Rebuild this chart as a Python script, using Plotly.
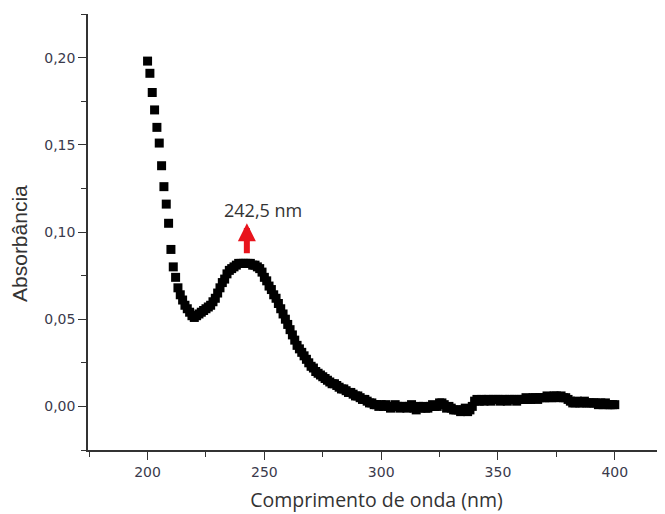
import plotly.graph_objects as go

wavelength = list(range(200, 401))

absorbance = [
    # 200-219
    0.198, 0.191, 0.180, 0.170, 0.160, 0.151, 0.138, 0.126, 0.116, 0.105,
    0.090, 0.080, 0.074, 0.068, 0.064, 0.061, 0.058, 0.056, 0.054, 0.052,
    # 220-239
    0.051, 0.052, 0.053, 0.054, 0.055, 0.056, 0.057, 0.058, 0.060, 0.062,
    0.065, 0.068, 0.071, 0.073, 0.076, 0.078, 0.079, 0.080, 0.081, 0.082,
    # 240-259
    0.082, 0.082, 0.082, 0.082, 0.082, 0.081, 0.081, 0.080, 0.079, 0.077,
    0.074, 0.072, 0.069, 0.067, 0.064, 0.062, 0.059, 0.056, 0.053, 0.050,
    # 260-279
    0.047, 0.044, 0.041, 0.038, 0.035, 0.033, 0.031, 0.029, 0.027, 0.025,
    0.023, 0.022, 0.020, 0.019, 0.018, 0.017, 0.016, 0.015, 0.014, 0.013,
    # 280-299
    0.013, 0.012, 0.011, 0.010, 0.010, 0.009, 0.008, 0.008, 0.007, 0.006,
    0.006, 0.005, 0.004, 0.004, 0.003, 0.002, 0.002, 0.001, 0.001, 0.000,
    # 300-319
    0.001, 0.000, 0.001, 0.000, -0.001, 0.000, 0.001, 0.000, -0.001, 0.000,
    0.000, -0.001, 0.000, 0.001, -0.001, -0.002, 0.000, -0.001, 0.000, -0.001,
    # 320-339
    -0.001, 0.000, 0.001, 0.000, 0.000, 0.002, 0.002, 0.001, -0.001, 0.000,
    -0.001, -0.002, -0.002, -0.002, -0.003, -0.002, -0.001, -0.003, -0.002, 0.000,
    # 340-359
    0.003, 0.004, 0.003, 0.004, 0.003, 0.004, 0.004, 0.003, 0.004, 0.004,
    0.004, 0.003, 0.004, 0.004, 0.003, 0.004, 0.004, 0.004, 0.003, 0.004,
    # 360-379
    0.004, 0.004, 0.005, 0.004, 0.004, 0.005, 0.005, 0.004, 0.005, 0.005,
    0.005, 0.006, 0.005, 0.005, 0.006, 0.006, 0.005, 0.006, 0.005, 0.005,
    # 380-400
    0.004, 0.003, 0.002, 0.002, 0.003, 0.002, 0.002, 0.003, 0.002, 0.002,
    0.002, 0.002, 0.002, 0.001, 0.002, 0.001, 0.002, 0.001, 0.001, 0.001,
    0.001,
]

peak_label = "242,5 nm"
peak_x = 242.5
x_title = "Comprimento de onda (nm)"
y_title = "Absorbância"

fig = go.Figure()
fig.add_trace(go.Scatter(
    x=wavelength, y=absorbance, mode="markers",
    marker=dict(symbol="square", size=9, color="black", line=dict(width=0)),
    showlegend=False, hoverinfo="x+y",
))

axis_color = "#333333"
tick_font = dict(family="DejaVu Sans", size=14, color="#3a3a4c")

fig.update_xaxes(
    range=[174.5, 421.5], tick0=0, dtick=50, ticks="outside", ticklen=8, tickwidth=1.3,
    tickcolor=axis_color, showline=True, linecolor=axis_color, linewidth=1.5,
    showgrid=False, zeroline=False, tickfont=tick_font, automargin=False,
    minor=dict(dtick=25, tick0=0, ticks="outside", ticklen=5, tickwidth=1.3, tickcolor=axis_color, showgrid=False),
    title=dict(text=x_title, font=dict(family="Open Sans", size=19.5, color="#333333"), standoff=15),
)
fig.update_yaxes(
    range=[-0.025, 0.225], tick0=0, dtick=0.05, tickformat=".2f", ticks="outside", ticklen=8,
    tickwidth=1.3, tickcolor=axis_color, showline=True, linecolor=axis_color, linewidth=1.5,
    showgrid=False, zeroline=False, tickfont=tick_font, automargin=False,
    minor=dict(dtick=0.025, tick0=0, ticks="outside", ticklen=5, tickwidth=1.3, tickcolor=axis_color, showgrid=False),
)

# y-axis title, placed slightly below the plot centre as in the reference
fig.add_annotation(
    text=y_title, textangle=-90, xref="paper", yref="paper", x=0, y=0.4725,
    xanchor="center", yanchor="middle", xshift=-68, showarrow=False,
    font=dict(family="Liberation Sans", size=21, color="#333333"),
)

fig.add_annotation(
    x=peak_x, y=0.105, ax=peak_x, ay=0.087, xref="x", yref="y", axref="x", ayref="y",
    text="", showarrow=True, arrowhead=2, arrowsize=0.6, arrowwidth=6, arrowcolor="#e8141c",
)
fig.add_annotation(
    x=249.3, y=0.1125, xref="x", yref="y", text=peak_label, showarrow=False,
    font=dict(family="Open Sans", size=18, color="#333333"),
)

# the page body adds an 8px offset, so the figure is sized and placed to compensate
fig.update_layout(
    width=657, height=506, margin=dict(l=80, r=0, t=6, b=64),
    plot_bgcolor="white", paper_bgcolor="white", separators=",.",
)

fig.write_html("out.html")
